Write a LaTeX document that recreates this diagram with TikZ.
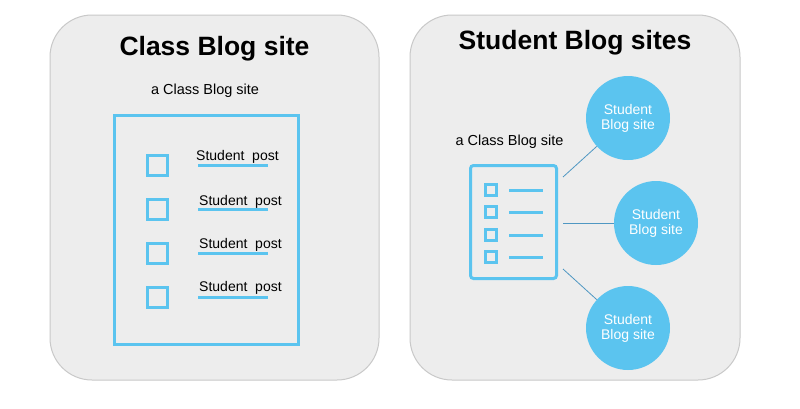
\documentclass[tikz,border=0pt]{standalone}
\usepackage{fontspec}
\setmainfont{Liberation Sans}
\definecolor{skyb}{HTML}{5BC4EF}
\definecolor{panelfill}{HTML}{EDEDED}
\definecolor{panelline}{HTML}{C9C9C9}
\definecolor{conn}{HTML}{4F97C2}
\begin{document}
\begin{tikzpicture}[x=1pt,y=-1pt,
  panel/.style={draw=panelline,fill=panelfill,line width=1pt,rounded corners=42pt},
  ttl/.style={font=\fontsize{26.5}{30}\selectfont\bfseries,inner sep=0pt},
  lbl/.style={font=\fontsize{14.5}{17}\selectfont,inner sep=0pt},
  post/.style={font=\fontsize{14}{16}\selectfont,inner sep=0pt,anchor=base west},
  bigbox/.style={draw=skyb,line width=3pt},
  cbox/.style={draw=skyb,line width=3pt,minimum size=20pt,inner sep=0pt},
  ubar/.style={draw=skyb,line width=3pt},
  scbox/.style={draw=skyb,line width=3pt,minimum size=11pt,inner sep=0pt},
  sbar/.style={draw=skyb,line width=3pt},
  site/.style={circle,fill=skyb,minimum size=84pt,inner sep=0pt,text=white,align=center,font=\fontsize{14}{15}\selectfont},
  link/.style={draw=conn,line width=0.8pt}]
\useasboundingbox (0,0) rectangle (800,408);
\fill[white] (0,0) rectangle (800,408);
% panels
\path[panel] (50,15) rectangle (379,380);
\path[panel] (410,15) rectangle (740,380);
% left panel
\node[ttl] (t1) at (214.5,49) {Class Blog site};
\node[lbl] (l1) at (205,91) {a Class Blog site};
\node[bigbox,minimum width=184pt,minimum height=229pt,inner sep=0pt] (doc) at (206,229.5) {};
\foreach \i/\y/\tx/\ty in {1/165/196/160, 2/209/199/205, 3/253/199/248, 4/297/199/291}{
  \node[cbox] (cb\i) at (157,\y) {};
  \coordinate (ua\i) at (198,\y);
  \coordinate (ub\i) at (268,\y);
  \draw[ubar] (ua\i) -- (ub\i);
  \node[post] (p\i) at (\tx,\ty) {Student\ \ post};
}
% right panel
\node[ttl] (t2) at (575,43) {Student Blog sites};
\node[lbl] (l2) at (509.5,142) {a Class Blog site};
\node[draw=skyb,line width=3pt,rounded corners=3pt,minimum width=86pt,minimum height=113pt,inner sep=0pt] (sdoc) at (513.5,222) {};
\foreach \i/\y in {1/190,2/212,3/235,4/257}{
  \node[scbox] (sb\i) at (490.5,\y) {};
  \coordinate (sa\i) at (509,\y);
  \coordinate (sz\i) at (543,\y);
  \draw[sbar] (sa\i) -- (sz\i);
}
\node[site] (c1) at (628,118) {Student\\Blog site};
\node[site] (c2) at (656,223) {Student\\Blog site};
\node[site] (c3) at (628,328) {Student\\Blog site};
\coordinate (k1) at (563,177);
\coordinate (k2) at (563,223);
\coordinate (k3) at (563,269);
\draw[link] (k1) -- (c1);
\draw[link] (k2) -- (c2);
\draw[link] (k3) -- (c3);
\end{tikzpicture}
\end{document}
